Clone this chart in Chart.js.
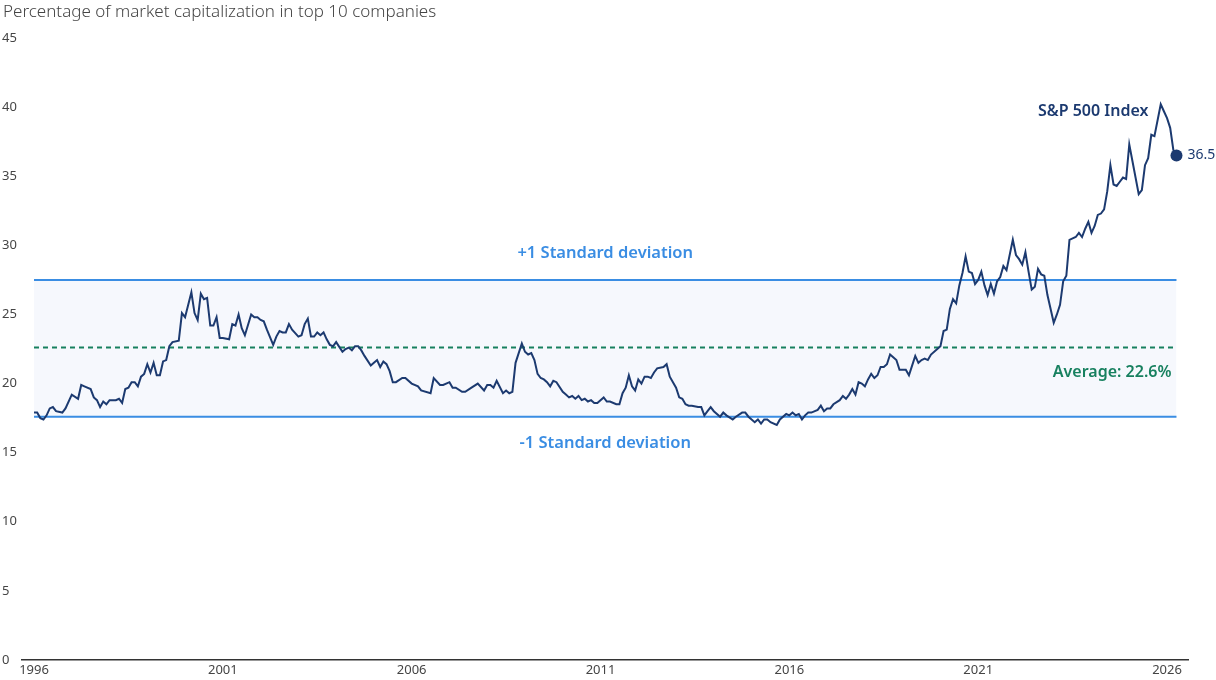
<!DOCTYPE html>
<html>
<head>
<meta charset="utf-8">
<script src="https://cdn.jsdelivr.net/npm/chart.js@4.4.1/dist/chart.umd.min.js"></script>
<style>
html,body{margin:0;padding:0;background:#fff;}
#wrap{width:1216px;height:680px;position:relative;}
</style>
</head>
<body>
<div id="wrap"><canvas id="c"></canvas></div>
<script>
const chartTitle = 'Percentage of market capitalization in top 10 companies';
const seriesName = 'S&P 500 Index';

const months = [
'1996-01','1996-02','1996-03','1996-04','1996-05','1996-06','1996-07','1996-08','1996-10','1996-11',
'1997-01','1997-03','1997-04','1997-05','1997-07','1997-08','1997-09','1997-10','1997-11','1997-12',
'1998-01','1998-03','1998-04','1998-05','1998-06','1998-07','1998-08','1998-09','1998-10','1998-11','1998-12',
'1999-01','1999-02','1999-03','1999-04','1999-05','1999-06','1999-07','1999-08','1999-09','1999-11','1999-12',
'2000-01','2000-03','2000-04','2000-05','2000-06','2000-07','2000-08','2000-09','2000-10','2000-11','2000-12',
'2001-01','2001-03','2001-04','2001-05','2001-06','2001-07','2001-08','2001-10','2001-11','2001-12',
'2002-01','2002-02','2002-03','2002-05','2002-06','2002-07','2002-08','2002-09','2002-10','2002-11',
'2003-01','2003-02','2003-03','2003-04','2003-05','2003-06','2003-07','2003-08','2003-09','2003-10','2003-11','2003-12',
'2004-01','2004-03','2004-04','2004-05','2004-06','2004-07','2004-08','2004-09','2004-10','2004-12',
'2005-01','2005-02','2005-03','2005-04','2005-05','2005-06','2005-07','2005-08','2005-10','2005-11',
'2006-01','2006-03','2006-04','2006-07','2006-08','2006-10','2006-11',
'2007-01','2007-02','2007-03','2007-05','2007-06','2007-08','2007-10','2007-12',
'2008-01','2008-02','2008-03','2008-04','2008-06','2008-07','2008-08','2008-09','2008-10','2008-12',
'2009-01','2009-02','2009-03','2009-04','2009-05','2009-06','2009-07','2009-08','2009-09','2009-10','2009-11',
'2010-01','2010-02','2010-03','2010-04','2010-05','2010-06','2010-07','2010-08','2010-09','2010-10','2010-11','2010-12',
'2011-02','2011-03','2011-04','2011-06','2011-07','2011-08','2011-09','2011-10','2011-11','2011-12',
'2012-01','2012-02','2012-03','2012-04','2012-05','2012-06','2012-07','2012-09','2012-10','2012-11',
'2013-01','2013-02','2013-03','2013-04','2013-05','2013-06','2013-08','2013-09','2013-10','2013-11','2013-12',
'2014-01','2014-03','2014-04','2014-05','2014-07','2014-08','2014-10','2014-11','2014-12',
'2015-02','2015-03','2015-04','2015-05','2015-06','2015-07','2015-09','2015-10','2015-12',
'2016-01','2016-02','2016-03','2016-04','2016-05','2016-06','2016-07','2016-08','2016-10','2016-11','2016-12',
'2017-01','2017-02','2017-03','2017-05','2017-06','2017-07','2017-08','2017-09','2017-10','2017-11','2017-12',
'2018-01','2018-02','2018-03','2018-04','2018-05','2018-06','2018-07','2018-08','2018-09','2018-10','2018-11','2018-12',
'2019-02','2019-03','2019-04','2019-05','2019-06','2019-07','2019-08','2019-09','2019-10','2019-12',
'2020-01','2020-02','2020-03','2020-04','2020-05','2020-06','2020-07','2020-08','2020-09','2020-10','2020-11','2020-12',
'2021-01','2021-02','2021-03','2021-04','2021-05','2021-06','2021-07','2021-08','2021-09','2021-10','2021-12',
'2022-01','2022-02','2022-03','2022-04','2022-05','2022-06','2022-07','2022-08','2022-09','2022-10','2022-11',
'2023-01','2023-02','2023-03','2023-04','2023-05','2023-06','2023-07','2023-08','2023-09','2023-10','2023-11','2023-12',
'2024-01','2024-02','2024-03','2024-04','2024-05','2024-06','2024-07','2024-08','2024-09','2024-10','2024-11','2024-12',
'2025-01','2025-02','2025-04','2025-05','2025-06','2025-07','2025-08','2025-09','2025-11','2025-12',
'2026-01','2026-02','2026-03','2026-04'
];

const share = [
17.9,17.9,17.5,17.4,17.7,18.2,18.3,18.0,17.9,18.2,
19.2,18.9,19.9,19.8,19.6,19.0,18.8,18.3,18.7,18.5,
18.8,18.8,18.9,18.6,19.6,19.7,20.1,20.1,19.8,20.5,20.7,
21.4,20.8,21.5,20.6,20.6,21.6,21.7,22.7,23.0,23.1,25.1,
24.8,26.6,25.1,24.6,26.5,26.1,26.2,24.2,24.2,24.8,23.3,
23.3,23.2,24.3,24.2,25.0,24.0,23.5,25.0,24.8,24.8,
24.6,24.5,23.9,22.8,23.4,23.8,23.7,23.7,24.3,23.9,
23.4,23.5,24.3,24.7,23.4,23.4,23.7,23.5,23.7,23.2,22.8,22.7,
23.0,22.3,22.5,22.6,22.4,22.7,22.7,22.4,22.0,21.3,
21.5,21.7,21.2,21.6,21.4,20.9,20.1,20.1,20.4,20.4,
20.0,19.8,19.5,19.3,20.4,19.9,19.9,
20.1,19.7,19.7,19.4,19.4,19.7,20.0,19.5,
19.9,19.9,19.7,20.2,19.3,19.5,19.3,19.4,21.5,22.9,
22.3,22.1,22.2,21.7,20.7,20.4,20.3,20.1,19.8,20.2,20.1,
19.4,19.2,19.0,19.1,18.9,19.1,18.8,18.9,18.7,18.8,18.6,18.6,
19.0,18.7,18.7,18.5,18.5,19.3,19.7,20.6,19.8,19.5,
20.3,20.0,20.5,20.5,20.4,20.8,21.1,21.2,21.4,20.5,
19.7,19.0,18.9,18.5,18.4,18.4,18.3,18.3,17.7,18.0,18.3,
18.0,17.6,17.9,17.7,17.4,17.6,17.9,17.9,17.6,
17.2,17.4,17.1,17.4,17.4,17.2,17.0,17.4,17.8,
17.7,17.9,17.7,17.8,17.4,17.7,17.9,17.9,18.1,18.4,18.0,
18.2,18.2,18.5,18.8,19.1,18.9,19.2,19.6,19.2,20.1,20.0,
19.8,20.3,20.7,20.4,20.6,21.2,21.2,21.4,22.1,21.9,21.7,21.0,
21.0,20.6,21.3,22.0,21.5,21.7,21.8,21.7,22.1,22.5,
22.7,23.8,23.9,25.4,26.1,25.8,27.1,28.0,29.2,28.1,28.0,27.2,
27.5,28.1,27.1,26.4,27.2,26.5,27.4,27.7,28.5,28.2,30.4,
29.3,29.0,28.6,29.5,28.1,26.8,27.0,28.3,27.9,27.8,26.4,
24.4,25.0,25.7,27.4,27.8,30.4,30.5,30.6,30.9,30.6,31.2,31.7,
30.9,31.4,32.2,32.3,32.6,33.9,35.8,34.4,34.3,34.6,34.9,34.8,
37.3,36.1,33.7,34.0,35.8,36.3,38.0,37.9,40.2,39.7,
39.2,38.5,36.9,36.5
];

const yearTicks = [1996, 2001, 2006, 2011, 2016, 2021, 2026];
const yTickValues = [0, 5, 10, 15, 20, 25, 30, 35, 40, 45];
const average = 22.6;
const plusOneSD = 27.5;
const minusOneSD = 17.6;
const plusLabel = '+1 Standard deviation';
const minusLabel = '-1 Standard deviation';
const averageLabel = 'Average: ' + average + '%';

const NAVY = '#1c3a70';
const BLUE = '#3a8de3';
const GREEN = '#17805f';
const BAND = '#f6f8fd';
const TEXT = '#454545';
const FONT = '"Noto Sans", sans-serif';

function toYear(m) {
  const [y, mo] = m.split('-').map(Number);
  return y + (mo - 1) / 12;
}
const xs = months.map(toYear);
const firstX = xs[0];
const lastX = xs[xs.length - 1];
const lastIdx = share.length - 1;

const seriesData = xs.map((x, i) => ({ x: x, y: share[i] }));
const flat = v => [{ x: firstX, y: v }, { x: lastX, y: v }];

const labelPlugin = {
  id: 'labels',
  afterDatasetsDraw(chart) {
    const ctx = chart.ctx;
    const xS = chart.scales.x, yS = chart.scales.y;
    const xa = xS.getPixelForValue(firstX), xb = xS.getPixelForValue(lastX);
    const mid = (xa + xb) / 2;
    ctx.save();
    ctx.textBaseline = 'middle';

    ctx.font = '600 16.5px ' + FONT;
    ctx.fillStyle = BLUE;
    ctx.textAlign = 'center';
    ctx.fillText(plusLabel, mid, yS.getPixelForValue(plusOneSD) - 27);
    ctx.fillText(minusLabel, mid, yS.getPixelForValue(minusOneSD) + 27);

    ctx.font = '600 16px ' + FONT;
    ctx.fillStyle = GREEN;
    ctx.textAlign = 'right';
    ctx.fillText(averageLabel, xb - 5, yS.getPixelForValue(average) + 25);

    const lx = xS.getPixelForValue(lastX), ly = yS.getPixelForValue(share[lastIdx]);
    ctx.fillStyle = NAVY;
    ctx.textAlign = 'right';
    ctx.fillText(seriesName, lx - 28, yS.getPixelForValue(40) + 4);

    ctx.font = '14px ' + FONT;
    ctx.textAlign = 'left';
    ctx.fillText(String(share[lastIdx]), lx + 11, ly);

    ctx.font = '300 17px ' + FONT;
    ctx.fillStyle = TEXT;
    ctx.textAlign = 'left';
    ctx.fillText(chartTitle, 3, 12);
    ctx.restore();
  }
};

new Chart(document.getElementById('c'), {
  type: 'line',
  data: {
    datasets: [
      {
        label: seriesName,
        data: seriesData,
        borderColor: NAVY,
        backgroundColor: NAVY,
        borderWidth: 2,
        tension: 0,
        pointRadius: c => (c.dataIndex === lastIdx ? 6 : 0),
        pointHoverRadius: 0,
        pointBorderWidth: 0,
        fill: false
      },
      {
        label: 'avg',
        data: flat(average),
        borderColor: GREEN,
        borderWidth: 2,
        borderDash: [5, 4],
        pointRadius: 0,
        fill: false
      },
      {
        label: 'plus',
        data: flat(plusOneSD),
        borderColor: BLUE,
        borderWidth: 2,
        pointRadius: 0,
        fill: false
      },
      {
        label: 'minus',
        data: flat(minusOneSD),
        borderColor: BLUE,
        borderWidth: 2,
        pointRadius: 0,
        backgroundColor: BAND,
        fill: { target: 2 }
      }
    ]
  },
  options: {
    responsive: true,
    maintainAspectRatio: false,
    animation: false,
    events: [],
    layout: { padding: { left: 2, right: 28, top: 38, bottom: 0 } },
    plugins: {
      legend: { display: false },
      tooltip: { enabled: false },
      title: { display: false }
    },
    scales: {
      x: {
        type: 'linear',
        min: 1995.682,
        max: 2026.555,
        offset: false,
        grid: { display: false, drawTicks: false },
        border: { display: true, color: '#333', width: 1.5 },
        afterBuildTicks: s => { s.ticks = yearTicks.map(v => ({ value: v })); },
        afterFit: s => { s.height = 20; },
        ticks: {
          color: TEXT,
          font: { family: FONT, size: 13 },
          padding: 2,
          maxRotation: 0,
          autoSkip: false,
          callback: v => String(v)
        }
      },
      y: {
        min: 0,
        max: 45,
        grid: { display: false, drawTicks: false },
        border: { display: false },
        afterBuildTicks: s => { s.ticks = yTickValues.map(v => ({ value: v })); },
        afterFit: s => { s.width = 20; },
        ticks: {
          color: TEXT,
          font: { family: FONT, size: 13 },
          crossAlign: 'far',
          padding: 0,
          callback: v => String(v)
        }
      }
    }
  },
  plugins: [labelPlugin]
});
</script>
</body>
</html>
